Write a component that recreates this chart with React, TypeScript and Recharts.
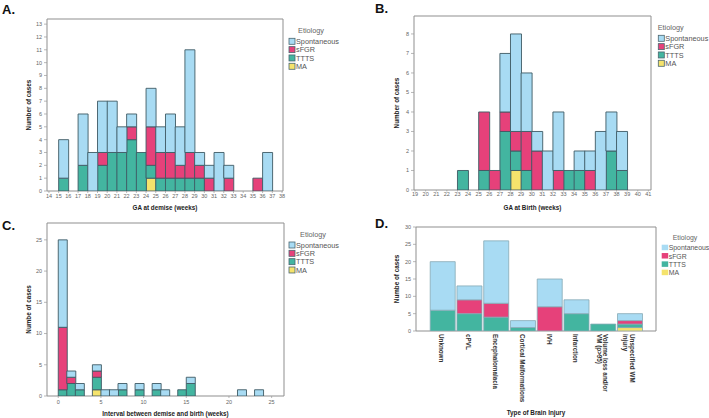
import React from 'react';
import { BarChart, Bar, XAxis, YAxis, ReferenceArea } from 'recharts';

const FONT = '"Liberation Sans", Arial, sans-serif';
const COL: Record<string, string> = { spont: '#a8dbf3', sfgr: '#e6417a', ttts: '#43b5a0', ma: '#f5e36c' };
const legendKeys = ['spont', 'sfgr', 'ttts', 'ma'];
const legendNames = ['Spontaneous', 'sFGR', 'TTTS', 'MA'];
const stackOrder = ['ma', 'ttts', 'sfgr', 'spont'];

// Panel A: GA at demise (weeks), bins start week
const aWeeks = [15, 17, 18, 19, 20, 21, 22, 23, 24, 25, 26, 27, 28, 29, 30, 31, 32, 35, 36];
const aSpont = [3, 4, 3, 4, 4, 2, 1, 0, 3, 2, 3, 3, 8, 1, 1, 3, 1, 0, 3];
const aSfgr = [0, 0, 0, 1, 0, 0, 1, 0, 3, 2, 2, 1, 2, 1, 1, 0, 1, 1, 0];
const aTtts = [1, 2, 0, 2, 3, 3, 4, 3, 1, 1, 1, 1, 1, 1, 0, 0, 0, 0, 0];
const aMa = [0, 0, 0, 0, 0, 0, 0, 0, 1, 0, 0, 0, 0, 0, 0, 0, 0, 0, 0];
const aXTicks = [14, 15, 16, 17, 18, 19, 20, 21, 22, 23, 24, 25, 26, 27, 28, 29, 30, 31, 32, 33, 34, 35, 36, 37, 38];
const aYTicks = [0, 1, 2, 3, 4, 5, 6, 7, 8, 9, 10, 11, 12, 13];

// Panel B: GA at birth (weeks)
const bWeeks = [23, 25, 26, 27, 28, 29, 30, 31, 32, 33, 34, 35, 36, 37, 38];
const bSpont = [0, 0, 0, 3, 5, 3, 1, 2, 3, 0, 1, 1, 3, 2, 2];
const bSfgr = [0, 3, 1, 1, 1, 2, 2, 0, 1, 0, 0, 1, 0, 0, 0];
const bTtts = [1, 1, 0, 3, 1, 1, 0, 0, 0, 1, 1, 0, 0, 2, 1];
const bMa = [0, 0, 0, 0, 1, 0, 0, 0, 0, 0, 0, 0, 0, 0, 0];
const bXTicks = [19, 20, 21, 22, 23, 24, 25, 26, 27, 28, 29, 30, 31, 32, 33, 34, 35, 36, 37, 38, 39, 40, 41];
const bYTicks = [0, 1, 2, 3, 4, 5, 6, 7, 8];

// Panel C: interval between demise and birth (weeks)
const cWeeks = [0, 1, 2, 4, 5, 6, 7, 9, 11, 12, 14, 15, 21, 23];
const cSpont = [14, 1, 1, 1, 1, 1, 1, 1, 1, 1, 0, 1, 1, 1];
const cSfgr = [10, 1, 0, 1, 0, 0, 0, 0, 0, 0, 0, 0, 0, 0];
const cTtts = [1, 2, 1, 2, 0, 0, 1, 1, 1, 0, 1, 2, 0, 0];
const cMa = [0, 0, 0, 1, 0, 0, 0, 0, 0, 0, 0, 0, 0, 0];
const cXTicks = [0, 5, 10, 15, 20, 25];
const cYTicks = [0, 5, 10, 15, 20, 25];

// Panel D: type of brain injury
const dCats = ['Unknown', 'cPVL', 'Encephalomalacia', 'Cortical Malformations', 'IVH', 'Infarction', 'Volume loss and/or VM (p>95)', 'Unspecified WM injury'];
const dTickLines = [['Unknown'], ['cPVL'], ['Encephalomalacia'], ['Cortical Malformations'], ['IVH'], ['Infarction'], ['Volume loss and/or', 'VM (p>95)'], ['Unspecified WM', 'injury']];
const dSpont = [14, 4, 18, 2, 8, 4, 0, 2];
const dSfgr = [0, 4, 4, 0, 7, 0, 0, 1];
const dTtts = [6, 5, 4, 1, 0, 5, 2, 1];
const dMa = [0, 0, 0, 0, 0, 0, 0, 1];
const dYTicks = [0, 5, 10, 15, 20, 25, 30];

const buildHist = (weeks: number[], s: number[], f: number[], t: number[], m: number[]) =>
  weeks.map((w, i) => ({ bin: w + 0.5, spont: s[i], sfgr: f[i], ttts: t[i], ma: m[i] }));

const aData = buildHist(aWeeks, aSpont, aSfgr, aTtts, aMa);
const bData = buildHist(bWeeks, bSpont, bSfgr, bTtts, bMa);
const cData = buildHist(cWeeks, cSpont, cSfgr, cTtts, cMa);
// category position (1-based) on a numeric axis so the plot frame can span the full axis range
const dData = dCats.map((name, i) => ({ pos: i + 1, name, spont: dSpont[i], sfgr: dSfgr[i], ttts: dTtts[i], ma: dMa[i] }));
const dPositions = dData.map((d) => d.pos);

const tickStyle = { fontSize: 5.5, fill: '#666', fontFamily: FONT };
const titleProps = { fontSize: 6.3, fontWeight: 700, fill: '#222', fontFamily: FONT };
const FRAME = '#8f8f8f';

type HistProps = {
  left: number; top: number; width: number; height: number; data: any[];
  margin: any; yAxisWidth: number; xAxisHeight: number;
  xDomain: number[]; xTicks: number[]; yDomain: number[]; yTicks: number[];
  xTitle: string; yTitle: string; xTitleOffset: number; yTitleOffset: number;
  xTickSize: number; xTickMargin: number;
};

function Hist(p: HistProps) {
  return (
    <div style={{ position: 'absolute', left: p.left, top: p.top }}>
      <BarChart width={p.width} height={p.height} data={p.data} margin={p.margin} barCategoryGap={0} barGap={0}>
        <XAxis
          type="number" dataKey="bin" domain={p.xDomain} ticks={p.xTicks} allowDataOverflow interval={0}
          height={p.xAxisHeight} axisLine={false} tickLine={{ stroke: '#999', strokeWidth: 0.7 }}
          tickSize={p.xTickSize} tickMargin={p.xTickMargin} tick={tickStyle}
          label={{ value: p.xTitle, position: 'insideBottom', offset: p.xTitleOffset, ...titleProps }}
        />
        <YAxis
          type="number" domain={p.yDomain} ticks={p.yTicks} allowDataOverflow interval={0}
          width={p.yAxisWidth} axisLine={false} tickLine={{ stroke: '#999', strokeWidth: 0.7 }}
          tickSize={3} tickMargin={2} tick={tickStyle}
          label={{ value: p.yTitle, position: 'insideLeft', angle: -90, offset: p.yTitleOffset, style: { textAnchor: 'middle' }, ...titleProps }}
        />
        {stackOrder.map((k) => (
          <Bar key={k} dataKey={k} stackId="s" fill={COL[k]} stroke="#3e5a64" strokeWidth={0.9} isAnimationActive={false} />
        ))}
        <ReferenceArea x1={p.xDomain[0]} x2={p.xDomain[1]} y1={p.yDomain[0]} y2={p.yDomain[1]}
          fill="none" fillOpacity={0} stroke={FRAME} strokeWidth={1} ifOverflow="visible" />
      </BarChart>
    </div>
  );
}

const DTick = (props: any) => {
  const { x, y, payload } = props;
  const idx = dPositions.indexOf(payload.value);
  const lines = dTickLines[idx] || [];
  const lh = 6.8;
  const start = -((lines.length - 1) / 2) * lh;
  return (
    <g transform={`translate(${x},${y})`}>
      <text transform="rotate(90)" fontSize={6.3} fontWeight={700} fill="#333" fontFamily={FONT} dominantBaseline="central">
        {lines.map((l: string, i: number) => (
          <tspan key={i} x={0} y={start + i * lh}>{l}</tspan>
        ))}
      </text>
    </g>
  );
};

const dXDomain = [0.01, 8.98];

function PanelD() {
  return (
    <div style={{ position: 'absolute', left: 355, top: 205 }}>
      <BarChart width={310} height={213} data={dData} margin={{ top: 22, right: 9, left: 35, bottom: 0 }} barCategoryGap={1.1}>
        <XAxis
          dataKey="pos" type="number" domain={dXDomain} ticks={dPositions} allowDataOverflow interval={0} height={87}
          tickSize={0} tickMargin={3} axisLine={false} tickLine={false}
          tick={(props: any) => <DTick {...props} />}
          label={{ value: 'Type of Brain Injury', position: 'insideBottom', offset: 3.2, ...titleProps }}
        />
        <YAxis
          type="number" domain={[0, 30]} ticks={dYTicks} allowDataOverflow interval={0}
          width={26} axisLine={false} tickLine={{ stroke: '#999', strokeWidth: 0.7 }}
          tickSize={3} tickMargin={2} tick={tickStyle}
          label={{ value: 'Numbe of cases', position: 'insideLeft', angle: -90, offset: 7, style: { textAnchor: 'middle' }, ...titleProps }}
        />
        {stackOrder.map((k) => (
          <Bar key={k} dataKey={k} stackId="s" fill={COL[k]} stroke="#86a9b5" strokeWidth={0.8} isAnimationActive={false} />
        ))}
        <ReferenceArea x1={dXDomain[0]} x2={dXDomain[1]} y1={0} y2={30}
          fill="none" fillOpacity={0} stroke={FRAME} strokeWidth={1} ifOverflow="visible" />
      </BarChart>
    </div>
  );
}

function LegendSvg({ swatchX, titleCx, titleY, rowY0, bordered, fs }: { swatchX: number; titleCx: number; titleY: number; rowY0: number; bordered: boolean; fs: number }) {
  const step = 8.33;
  return (
    <g fontFamily={FONT}>
      <text x={titleCx} y={titleY + 2.6} fontSize={fs} fill="#666" textAnchor="middle">Etiology</text>
      {legendKeys.map((k, i) => {
        const cy = rowY0 + i * step;
        return (
          <g key={k}>
            <rect x={swatchX} y={cy - 3} width={bordered ? 6 : 6.5} height={bordered ? 6 : 5.5} fill={COL[k]}
              stroke={bordered ? '#4a6670' : 'none'} strokeWidth={0.8} />
            <text x={swatchX + 7} y={cy + 2.6} fontSize={fs} fill="#555">{legendNames[i]}</text>
          </g>
        );
      })}
    </g>
  );
}

export default function App() {
  return (
    <div style={{ position: 'absolute', left: 0, top: 0, width: 709, height: 418, background: '#fff', overflow: 'hidden', fontFamily: FONT }}>
      <Hist left={0} top={0} width={290} height={212} data={aData}
        margin={{ top: 19, right: 7, left: 20, bottom: 0 }} yAxisWidth={27} xAxisHeight={21}
        xDomain={[13.8, 38.1]} xTicks={aXTicks} yDomain={[0, 13.4]} yTicks={aYTicks}
        xTitle="GA at demise (weeks)" yTitle="Number of cases" xTitleOffset={2} yTitleOffset={9}
        xTickSize={2} xTickMargin={1} />
      <Hist left={355} top={0} width={300} height={212} data={bData}
        margin={{ top: 16, right: 4, left: 35, bottom: 0 }} yAxisWidth={24} xAxisHeight={22}
        xDomain={[18.9, 41.25]} xTicks={bXTicks} yDomain={[0, 8.92]} yTicks={bYTicks}
        xTitle="GA at Birth (weeks)" yTitle="Number of cases" xTitleOffset={2.5} yTitleOffset={7}
        xTickSize={1.5} xTickMargin={0.5} />
      <Hist left={0} top={205} width={290} height={213} data={cData}
        margin={{ top: 18, right: 6, left: 20, bottom: 0 }} yAxisWidth={27} xAxisHeight={22}
        xDomain={[-1.32, 26.45]} xTicks={cXTicks} yDomain={[0, 27.7]} yTicks={cYTicks}
        xTitle="Interval between demise and birth (weeks)" yTitle="Numbe of cases" xTitleOffset={2.2} yTitleOffset={9}
        xTickSize={2} xTickMargin={1.7} />
      <PanelD />
      <svg width={709} height={418} style={{ position: 'absolute', left: 0, top: 0, pointerEvents: 'none' }}>
        <g fontFamily={FONT} fontWeight={700} fontSize={13} fill="#111">
          <text x={2} y={14}>A.</text>
          <text x={375} y={13}>B.</text>
          <text x={2} y={230}>C.</text>
          <text x={375} y={228}>D.</text>
        </g>
        <LegendSvg swatchX={289} titleCx={311} titleY={30} rowY0={41.3} bordered fs={7.3} />
        <LegendSvg swatchX={658.3} titleCx={670.7} titleY={27.3} rowY0={38.3} bordered fs={7.3} />
        <LegendSvg swatchX={289} titleCx={313} titleY={234} rowY0={245} bordered fs={7.3} />
        <LegendSvg swatchX={661.7} titleCx={685} titleY={237.3} rowY0={247.7} bordered={false} fs={6.9} />
      </svg>
    </div>
  );
}
